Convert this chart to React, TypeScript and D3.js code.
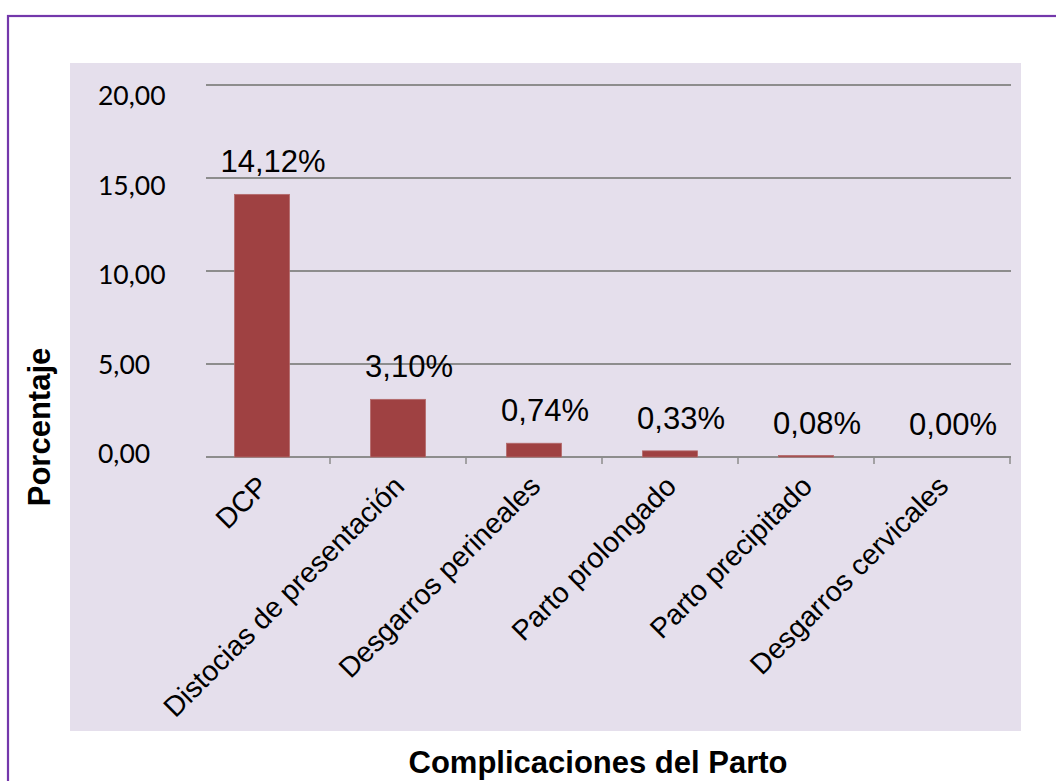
import React from "react";
import * as d3 from "d3";

const categories = [
  "DCP",
  "Distocias de presentación",
  "Desgarros perineales",
  "Parto prolongado",
  "Parto precipitado",
  "Desgarros cervicales",
];
const values = [14.12, 3.1, 0.74, 0.33, 0.08, 0.0];
const valueLabels = ["14,12%", "3,10%", "0,74%", "0,33%", "0,08%", "0,00%"];
const yTicks = [0, 5, 10, 15, 20];
const yTickLabels = ["0,00", "5,00", "10,00", "15,00", "20,00"];
const xTitle = "Complicaciones del Parto";
const yTitle = "Porcentaje";

const W = 1056;
const H = 781;

export default function App() {
  const y = d3.scaleLinear().domain([0, 20]).range([457, 85]);
  const yLab = d3.scaleLinear().domain([0, 20]).range([454, 96]);
  const x = d3
    .scaleBand<string>()
    .domain(categories)
    .range([194, 1010])
    .paddingInner(0.595)
    .paddingOuter(0.2975);
  const step = x.step();
  const r0 = x.range()[0];
  const center = (c: string) => (x(c) as number) + x.bandwidth() / 2;

  return (
    <svg
      width={W}
      height={H}
      style={{ position: "absolute", left: 0, top: 0, background: "#fff" }}
    >
      <rect x={8} y={16} width={1100} height={900} fill="none" stroke="#7438ab" strokeWidth={2.2} />
      <rect x={70} y={63} width={951} height={668} fill="#e5dfec" />
      {yTicks.map((t) => (
        <line key={"g" + t} x1={206} x2={1011} y1={y(t)} y2={y(t)} stroke="#8d8d8d" strokeWidth={2} />
      ))}
      {categories.map((c, i) => (
        <line
          key={"t" + i}
          x1={r0 + (i + 1) * step}
          x2={r0 + (i + 1) * step}
          y1={y(0)}
          y2={y(0) + 7}
          stroke="#8d8d8d"
          strokeWidth={1.5}
        />
      ))}
      {yTicks.map((t, i) => (
        <text
          key={"yl" + t}
          x={98}
          y={yLab(t)}
          dy="0.35em"
          textAnchor="start"
          fontFamily="Lato, 'Liberation Sans', sans-serif"
          fontSize={26.5}
          fill="#000"
        >
          {yTickLabels[i]}
        </text>
      ))}
      {categories.map((c, i) => (
        <rect
          key={"b" + i}
          x={x(c)}
          y={y(values[i])}
          width={x.bandwidth()}
          height={y(0) - y(values[i])}
          fill="#9f4142"
          stroke="#b46a6b"
          strokeWidth={values[i] > 0 ? 0.8 : 0}
        />
      ))}
      {categories.map((c, i) => (
        <text
          key={"v" + i}
          x={center(c) + 11}
          y={y(values[i]) - 22}
          textAnchor="middle"
          fontFamily="'Liberation Sans', Arial, sans-serif"
          fontSize={31}
          fill="#000"
        >
          {valueLabels[i]}
        </text>
      ))}
      {categories.map((c, i) => (
        <text
          key={"c" + i}
          transform={`translate(${center(c) + 8},${488}) rotate(-45)`}
          textAnchor="end"
          fontFamily="'Liberation Sans', Arial, sans-serif"
          fontSize={28.5}
          fill="#000"
        >
          {c}
        </text>
      ))}
      <text
        x={598}
        y={773}
        textAnchor="middle"
        fontFamily="'Liberation Sans', Arial, sans-serif"
        fontWeight="bold"
        fontSize={31}
        fill="#000"
      >
        {xTitle}
      </text>
      <text
        transform="translate(50,427) rotate(-90)"
        textAnchor="middle"
        fontFamily="'Liberation Sans', Arial, sans-serif"
        fontWeight="bold"
        fontSize={31}
        fill="#000"
      >
        {yTitle}
      </text>
    </svg>
  );
}
